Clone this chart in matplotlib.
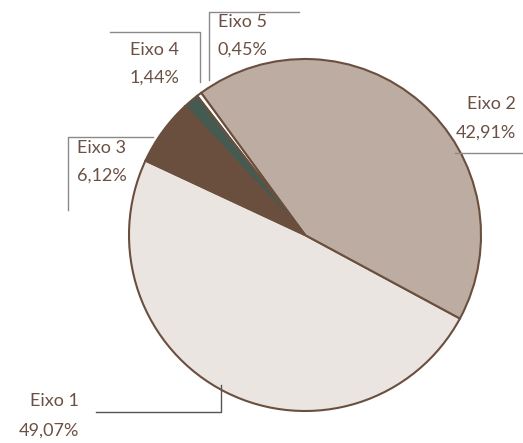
import matplotlib.pyplot as plt

labels = ['Eixo 1', 'Eixo 2', 'Eixo 5', 'Eixo 4', 'Eixo 3']
values = [49.07, 42.91, 0.45, 1.44, 6.12]
colors = ['#ebe5e1', '#bcaca2', '#ffffff', '#455a50', '#6b4f3e']

plt.rcParams['font.family'] = ['Lato', 'DejaVu Sans']

W, H = 523, 443
fig = plt.figure(figsize=(W / 100, H / 100), dpi=100)
ax = fig.add_axes([0, 0, 1, 1])

# pie in pixel coords (y axis flipped, so counterclock=False draws ccw on screen)
ax.pie(values, colors=colors, startangle=-155, counterclock=False,
       center=(305, 235), radius=176,
       wedgeprops=dict(edgecolor='#6b4f3e', linewidth=1.5))
ax.set_xlim(0, W)
ax.set_ylim(H, 0)
ax.set_aspect('equal')
ax.axis('off')

txt = '#6b5044'
line = '#8a8a8a'
fs = 13

def fmt(v):
    return f'{v:.2f}'.replace('.', ',') + '%'

pct = dict(zip(labels, values))

# Eixo 1
ax.plot([96, 221, 221], [412, 412, 385], color='#555555', lw=1)
ax.text(79, 401, 'Eixo 1', ha='right', va='center', color=txt, fontsize=fs)
ax.text(79, 431, fmt(pct['Eixo 1']), ha='right', va='center', color=txt, fontsize=fs)

# Eixo 2
ax.plot([455, 523], [153, 153], color=line, lw=1)
ax.text(516, 104, 'Eixo 2', ha='right', va='center', color=txt, fontsize=fs)
ax.text(516, 133, fmt(pct['Eixo 2']), ha='right', va='center', color=txt, fontsize=fs)

# Eixo 3
ax.plot([153, 68, 68], [137, 137, 210], color=line, lw=1)
ax.text(77, 148, 'Eixo 3', ha='left', va='center', color=txt, fontsize=fs)
ax.text(77, 176, fmt(pct['Eixo 3']), ha='left', va='center', color=txt, fontsize=fs)

# Eixo 4
ax.plot([110, 200, 200], [32, 32, 82], color=line, lw=1)
ax.text(179, 50, 'Eixo 4', ha='right', va='center', color=txt, fontsize=fs)
ax.text(179, 78, fmt(pct['Eixo 4']), ha='right', va='center', color=txt, fontsize=fs)

# Eixo 5
ax.plot([209, 209, 299], [80, 12, 12], color=line, lw=1)
ax.text(218, 22, 'Eixo 5', ha='left', va='center', color=txt, fontsize=fs)
ax.text(218, 50, fmt(pct['Eixo 5']), ha='left', va='center', color=txt, fontsize=fs)

fig.savefig('out.png', dpi=100)
